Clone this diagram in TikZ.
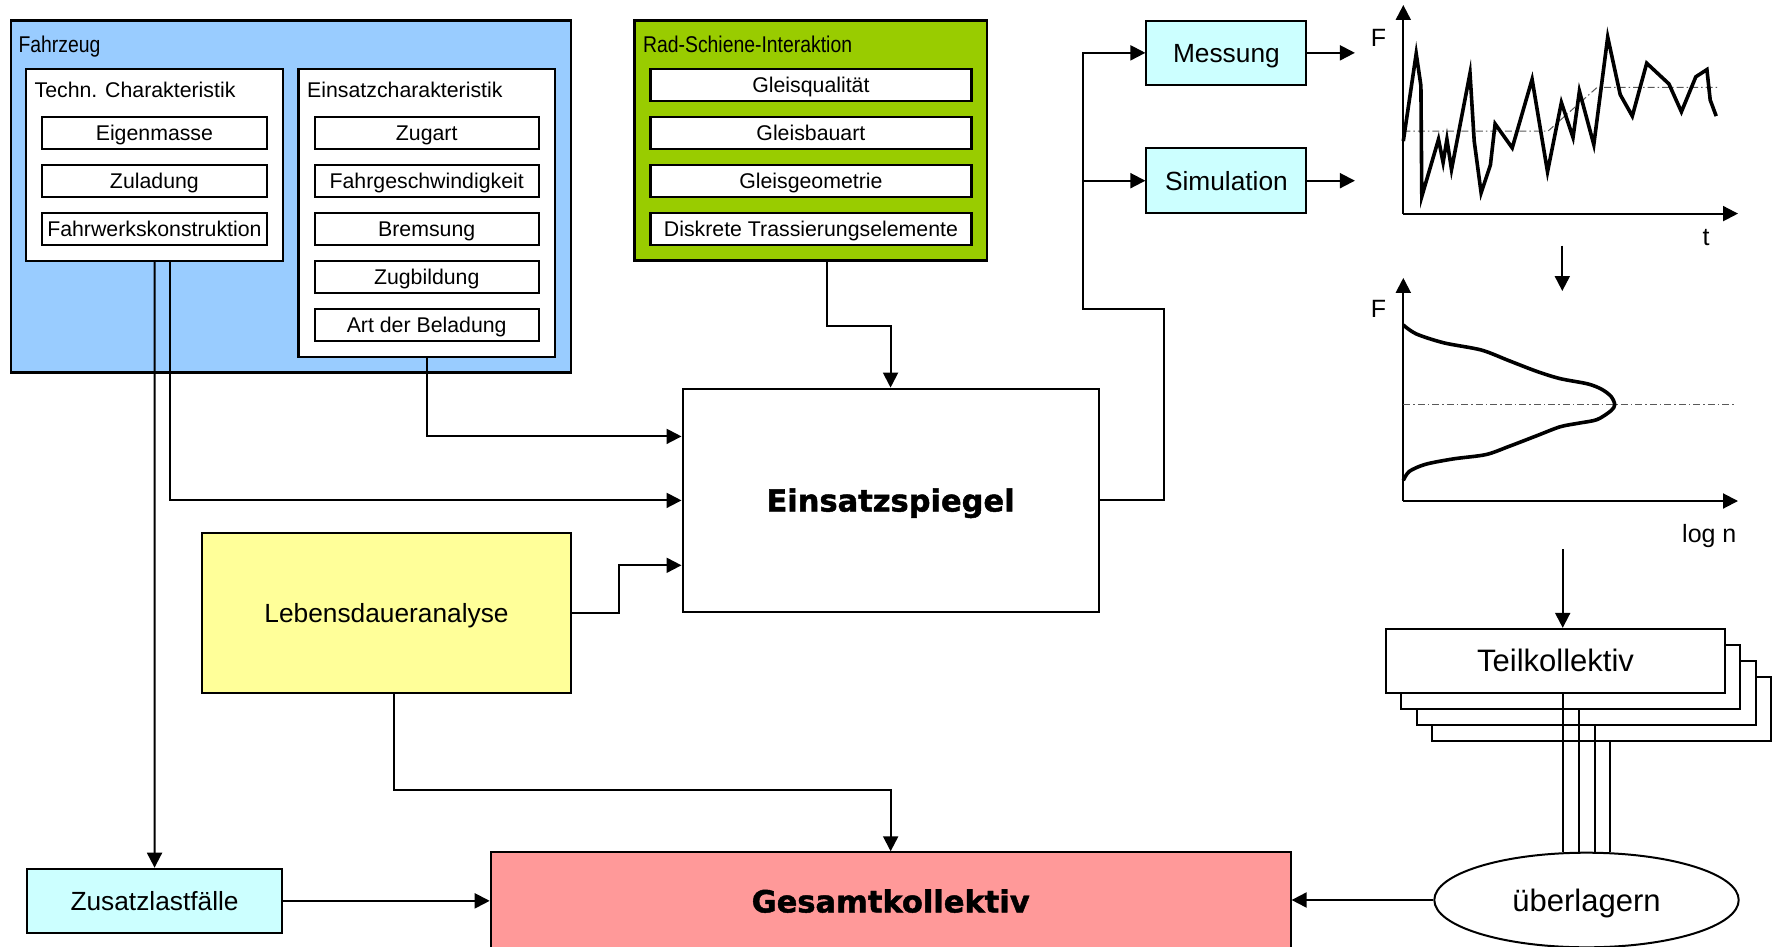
\documentclass[tikz,border=0pt]{standalone}
\usepackage{fontspec}
\setmainfont{Liberation Sans}
\newfontfamily\schmal[FakeStretch=0.85]{Liberation Sans}
\newfontfamily\fett[BoldFeatures={FakeBold=1.5}]{DejaVu Sans}
\usetikzlibrary{arrows.meta, shapes.geometric}
\definecolor{fahrzeugBlau}{HTML}{99CCFF}
\definecolor{schieneGruen}{HTML}{99CC00}
\definecolor{hellTuerkis}{HTML}{CCFFFF}
\definecolor{hellGelb}{HTML}{FFFF99}
\definecolor{kollektivRot}{HTML}{FF9999}
\newcommand{\klein}{\fontsize{21.3pt}{25pt}\selectfont}
\newcommand{\mittel}{\fontsize{26.3pt}{30pt}\selectfont}
\newcommand{\gross}{\fontsize{31pt}{36pt}\selectfont}

\begin{document}
\begin{tikzpicture}[x=1pt, y=-1pt,
    rahmen/.style={draw, line width=2.4pt, inner sep=0pt},
    titel/.style={anchor=base west, inner sep=0pt},
    feld/.style={draw, fill=white, line width=2.2pt, inner sep=0pt,
                 minimum height=32pt, font=\klein,
                 text height=15.3pt, text depth=0pt},
    kasten/.style={draw, line width=2pt, inner sep=0pt, font=\mittel,
                   text height=18.8pt, text depth=0pt},
    fettschrift/.style={font=\fett\bfseries\fontsize{30.5pt}{36pt}\selectfont,
                        text height=22.2pt, text depth=0pt},
    achsbeschr/.style={anchor=base, inner sep=0pt,
                       font=\fontsize{25pt}{30pt}\selectfont},
    pfeil/.style={-{Triangle[length=15pt, width=15pt]}, line width=2pt},
    linie/.style={line width=2pt},
    kurve/.style={line width=3.6pt},
    mittellinie/.style={line width=1pt, color=gray!70!black,
                        dash pattern=on 7pt off 3pt on 1.5pt off 3pt}]
  \useasboundingbox (0,0) rectangle (1777,947);

  % Fahrzeug
  \node[rahmen, fill=fahrzeugBlau, minimum width=560.3pt, minimum height=351.6pt] (fahrzeug) at (290.85,196.5) {};
  \node[titel, font=\schmal\fontsize{22.8pt}{26pt}\selectfont] (fahrzeugTitel) at (18.4,52.3) {Fahrzeug};
  \node[rahmen, fill=white, minimum width=257.2pt, minimum height=191.7pt] (techn) at (154.6,164.85) {};
  \node[titel, font=\klein] (technTitel) at (34.4,97.3) {Techn. Charakteristik};
  \node[feld, minimum width=224.6pt] (eigenmasse) at (154.4,132.85) {Eigenmasse};
  \node[feld, minimum width=224.6pt] (zuladung) at (154.4,180.85) {Zuladung};
  \node[feld, minimum width=224.6pt] (fahrwerk) at (154.4,228.85) {Fahrwerkskonstruktion};
  \node[rahmen, fill=white, minimum width=256.4pt, minimum height=287.7pt] (einsatz) at (426.7,212.85) {};
  \node[titel, font=\klein] (einsatzTitel) at (307,97.3) {Einsatzcharakteristik};
  \node[feld, minimum width=224.2pt] (zugart) at (426.7,132.85) {Zugart};
  \node[feld, minimum width=224.2pt] (fahrgeschw) at (426.7,180.85) {Fahrgeschwindigkeit};
  \node[feld, minimum width=224.2pt] (bremsung) at (426.7,228.85) {Bremsung};
  \node[feld, minimum width=224.2pt] (zugbildung) at (426.7,276.85) {Zugbildung};
  \node[feld, minimum width=224.2pt] (beladung) at (426.7,324.85) {Art der Beladung};

  % Rad-Schiene
  \node[rahmen, fill=schieneGruen, minimum width=352.5pt, minimum height=240pt] (rad) at (810.55,140.4) {};
  \node[titel, font=\schmal\fontsize{22.8pt}{26pt}\selectfont] (radTitel) at (642.9,52.2) {Rad-Schiene-Interaktion};
  \node[feld, minimum width=321pt] (gleisqual) at (810.9,84.85) {Gleisqualität};
  \node[feld, minimum width=321pt] (gleisbau) at (810.9,132.85) {Gleisbauart};
  \node[feld, minimum width=321pt] (gleisgeo) at (810.9,180.85) {Gleisgeometrie};
  \node[feld, minimum width=321pt] (trassierung) at (810.9,228.85) {Diskrete Trassierungselemente};

  % Bloecke
  \node[kasten, fettschrift, minimum width=416.1pt, minimum height=223.6pt] (spiegel) at (890.55,500.4) {Einsatzspiegel};
  \node[kasten, fill=hellGelb, minimum width=368.5pt, minimum height=160pt] (leben) at (386.55,612.7) {Lebensdaueranalyse};
  \node[kasten, fill=hellTuerkis, minimum width=255.7pt, minimum height=64.3pt] (zusatz) at (154.55,900.85) {Zusatzlastfälle};
  \node[kasten, fettschrift, fill=kollektivRot, minimum width=799.9pt, minimum height=98pt] (gesamt) at (890.65,901.3) {Gesamtkollektiv};
  \node[kasten, fill=hellTuerkis, minimum width=160pt, minimum height=64.3pt] (messung) at (1226.4,52.85) {Messung};
  \node[kasten, fill=hellTuerkis, minimum width=160pt, minimum height=65pt] (simulation) at (1226.4,180.7) {Simulation};

  % Teilkollektive
  \node[kasten, fill=white, minimum width=339pt, minimum height=64pt] (teil4) at (1601.2,708.7) {};
  \node[kasten, fill=white, minimum width=339pt, minimum height=64pt] (teil3) at (1586,692.7) {};
  \node[kasten, fill=white, minimum width=339pt, minimum height=64pt] (teil2) at (1570.7,676.8) {};
  \node[kasten, fill=white, minimum width=339pt, minimum height=64pt, font=\gross, text height=22.2pt] (teil1) at (1555.5,660.85) {Teilkollektiv};
  \node[ellipse, draw, fill=white, line width=2pt, inner sep=0pt, minimum width=304.4pt, minimum height=94.6pt, font=\gross, text height=22.2pt, text depth=0pt] (ueber) at (1586.5,900) {überlagern};

  % Verbindungen
  \draw[pfeil] (techn.south) -- (zusatz.north);
  \draw[pfeil] ([xshift=15.5pt]techn.south) |- (spiegel.west);
  \draw[pfeil] (einsatz.south) |- ([yshift=64pt]spiegel.west);
  \draw[pfeil] (leben.east) -- ++(47.4,0) |- ([yshift=-64.9pt]spiegel.west);
  \draw[pfeil] ([xshift=16.3pt]rad.south) -- ++(0,64.5) -| (spiegel.north);
  \draw[pfeil] ([xshift=7.7pt]leben.south) -- ++(0,96) -| (gesamt.north);
  \draw[pfeil] (zusatz.east) -- (zusatz.east -| gesamt.west);
  \draw[pfeil] (ueber.west) -- (ueber.west -| gesamt.east);
  \coordinate (knoten) at (1082.9,308.6);
  \draw[pfeil] (spiegel.east) -- ++(64.1,0) |- (knoten) |- (messung.west);
  \draw[pfeil] (knoten |- simulation.west) -- (simulation.west);
  \draw[pfeil] (messung.east) -- ++(47.5,0);
  \draw[pfeil] (simulation.east) -- ++(47.5,0);
  \draw[linie] ([xshift=7.2pt]teil1.south) -- ([xshift=7.2pt]teil1.south |- ueber.north);
  \draw[linie] ([xshift=8pt]teil2.south) -- ([xshift=8pt]teil2.south |- ueber.north);
  \draw[linie] ([xshift=8.7pt]teil3.south) -- ([xshift=8.7pt]teil3.south |- ueber.north);
  \draw[linie] ([xshift=9.1pt]teil4.south) -- ([xshift=9.1pt]teil4.south |- ueber.north);

  % Zeitverlauf
  \draw[pfeil] (1403.3,213.6) -- (1403.3,5);
  \draw[pfeil] (1403.3,213.6) -- (1738,213.6);
  \node[achsbeschr] (f1) at (1378.5,46.4) {F};
  \node[achsbeschr] (t1) at (1706,245.7) {t};
  \draw[mittellinie] (1403.3,131.1) -- (1548,131.1) -- (1597,87.5) -- (1720,87.5);
  \draw[kurve] (1403.3,141.1) -- (1416.2,53.6) -- (1420.9,85.7) -- (1421.8,196.4)
    -- (1438.5,139.3) -- (1443.1,162.5) -- (1446.9,139.3) -- (1451.5,169.6)
    -- (1470,73.2) -- (1474.2,141.1) -- (1481.1,192.9) -- (1490.4,165)
    -- (1495.1,123.9) -- (1512.2,147.9) -- (1532.1,79.3) -- (1547.5,171.8)
    -- (1561.4,102.5) -- (1573,137.5) -- (1579.4,91.1) -- (1593.8,144.6)
    -- (1607.7,37.1) -- (1620.2,94.6) -- (1632.3,116.1) -- (1646.7,63.2)
    -- (1668.9,83.9) -- (1681.4,111.8) -- (1695.8,76.8) -- (1706.9,69.6)
    -- (1710.2,100) -- (1716.2,116.1);
  \coordinate (zeitUnten) at (1562.3,245.7);
  \coordinate (verteilungOben) at (1562.3,291);
  \draw[pfeil] (zeitUnten) -- (verteilungOben);

  % Verteilung
  \draw[pfeil] (1403.3,501) -- (1403.3,277.9);
  \draw[pfeil] (1403.3,501) -- (1738,501);
  \node[achsbeschr] (f2) at (1378.5,317.9) {F};
  \node[achsbeschr] (logn) at (1709.3,542.9) {log n};
  \draw[mittellinie] (1403.3,404.6) -- (1736,404.6);
  \draw[kurve] plot[smooth] coordinates {(1403.3,325) (1416.2,333.9) (1444.1,342.9)
    (1481.2,350) (1509,360.7) (1536.8,371.4) (1560,378.6) (1587.8,383.9)
    (1601.7,389.3) (1611,396.4) (1614.7,404.6) (1611,410.7) (1597,419.6)
    (1578.5,423.2) (1560,426.8) (1536.8,435.7) (1509,446.4) (1485.8,454.6)
    (1453.3,458.9) (1425.5,464.3) (1409.3,471.4) (1403.3,480.4)};
  \coordinate (verteilungUnten) at (1562.7,549);
  \draw[pfeil] (verteilungUnten) -- (verteilungUnten |- teil1.north);
\end{tikzpicture}
\end{document}
